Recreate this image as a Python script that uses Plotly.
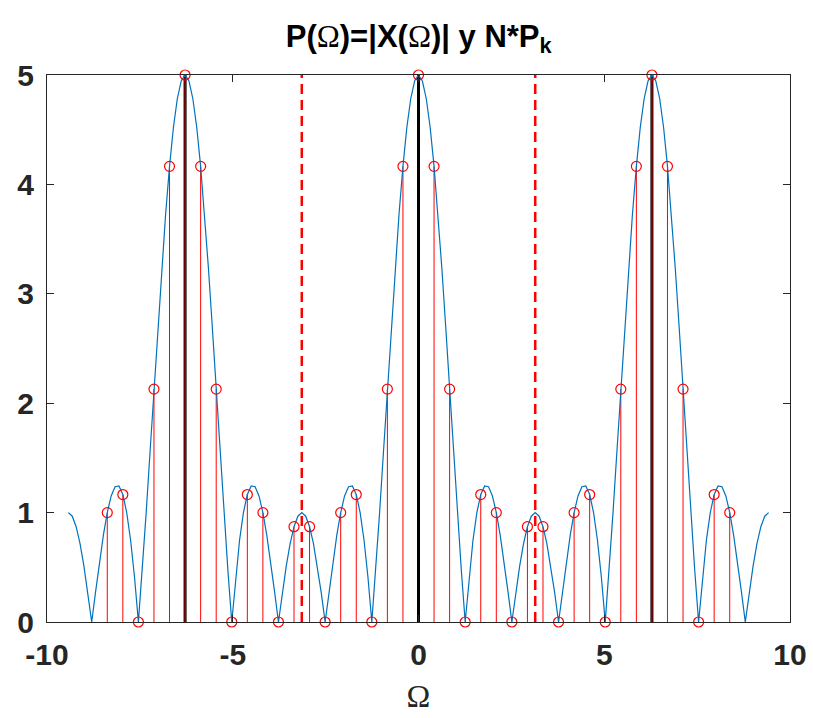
import numpy as np
import plotly.graph_objects as go

# |X(Omega)| read at Omega = pi*k/30, k = 0..30 (half period, symmetric)
half_period_vals = [5.000, 4.945, 4.783, 4.520, 4.165, 3.732, 3.236, 2.695, 2.129, 1.558,
                    1.000, 0.475, 0.000, 0.411, 0.747, 1.000, 1.165, 1.243, 1.236, 1.152,
                    1.000, 0.794, 0.547, 0.277, 0.000, 0.268, 0.511, 0.716, 0.871, 0.967,
                    1.000]
# N*P_k for one period of 15 samples
stem_period_vals = [5.000, 4.165, 2.129, 0.000, 1.165, 1.000, 0.000, 0.871,
                    0.871, 0.000, 1.000, 1.165, 0.000, 2.129, 4.165]
stem_k = list(range(-20, 21))
black_x = [-2 * np.pi, 0.0, 2 * np.pi]
dash_x = [-np.pi, np.pi]
x_ticks = [-10, -5, 0, 5, 10]
y_ticks = [0, 1, 2, 3, 4, 5]

# build full curve from -3pi to 3pi by mirroring/tiling the read half period
one_period = half_period_vals + half_period_vals[-2:0:-1]  # 60 values, k=0..59
curve_k = np.arange(-90, 91)
curve_x = np.pi * curve_k / 30
curve_y = [one_period[k % 60] for k in curve_k]

stem_x = [2 * np.pi * k / 15 for k in stem_k]
stem_y = [stem_period_vals[k % 15] for k in stem_k]

fig = go.Figure()

for bx in [black_x[0], black_x[2]]:
    fig.add_trace(go.Scatter(x=[bx, bx], y=[0, 5], mode="lines",
                             line=dict(color="black", width=3), showlegend=False, hoverinfo="skip"))

sx, sy = [], []
for x, y in zip(stem_x, stem_y):
    sx += [x, x, None]
    sy += [0, y, None]
fig.add_trace(go.Scatter(x=sx, y=sy, mode="lines", line=dict(color="#FF0000", width=1),
                         showlegend=False, hoverinfo="skip"))

fig.add_trace(go.Scatter(x=[black_x[1], black_x[1]], y=[0, 5], mode="lines",
                         line=dict(color="black", width=3), showlegend=False, hoverinfo="skip"))

for dx in dash_x:
    fig.add_trace(go.Scatter(x=[dx, dx], y=[0, 5], mode="lines",
                             line=dict(color="#FF0000", width=2.5, dash="10px,6px"),
                             showlegend=False, hoverinfo="skip"))

fig.add_trace(go.Scatter(x=curve_x, y=curve_y, mode="lines",
                         line=dict(color="#0072BD", width=1.2), showlegend=False))

fig.add_trace(go.Scatter(x=stem_x, y=stem_y, mode="markers",
                         marker=dict(symbol="circle-open", size=10, color="#FF0000",
                                     line=dict(width=1.2, color="#FF0000")),
                         showlegend=False, cliponaxis=False))

axis_common = dict(showgrid=False, zeroline=False, showline=True, linecolor="#262626",
                   linewidth=1, mirror="ticks", ticks="inside", ticklen=7, tickcolor="#262626",
                   automargin=False,
                   tickfont=dict(family="Liberation Sans", size=30, color="#262626"))

omega = "<span style='font-family:Liberation Serif;font-weight:normal'>Ω</span>"
fig.update_layout(
    width=813, height=718,
    margin=dict(l=47, r=23, t=75, b=96),
    paper_bgcolor="white", plot_bgcolor="white",
    title=dict(text="<b>P(" + omega + ")=|X(" + omega + ")| y N*P<sub>k</sub></b>",
               x=0.515, xanchor="center", y=0.965, yanchor="top",
               font=dict(family="Liberation Sans", size=31, color="black")),
    xaxis=dict(range=[-10, 10], tickvals=x_ticks,
               ticktext=["<b>%d</b>" % v for v in x_ticks],
               ticklabelstandoff=6,
               title=dict(text="Ω", font=dict(family="Liberation Serif", size=32, color="#262626"),
                          standoff=14),
               **axis_common),
    yaxis=dict(range=[0, 5], tickvals=y_ticks,
               ticktext=["<b>%d</b>" % v for v in y_ticks],
               ticklabelstandoff=6,
               **axis_common),
)

fig.write_html("out.html")
